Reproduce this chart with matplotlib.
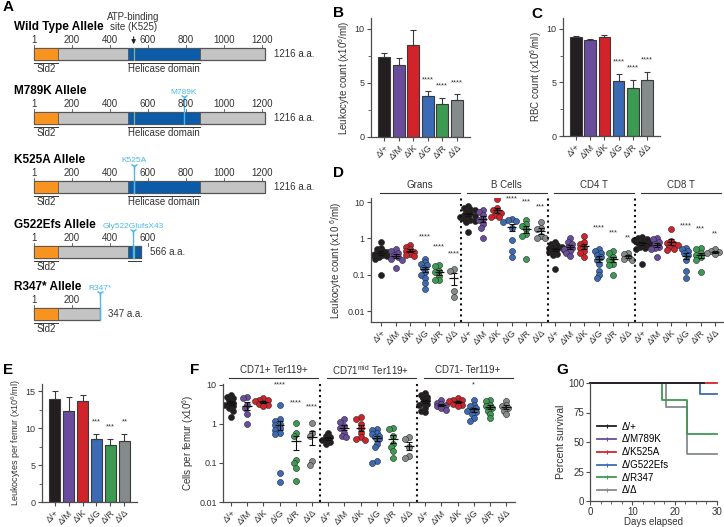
import numpy as np
import matplotlib
matplotlib.use("Agg")
import matplotlib.pyplot as plt
from matplotlib.patches import Rectangle
from matplotlib.lines import Line2D
from matplotlib.ticker import NullLocator, MultipleLocator
from matplotlib.transforms import blended_transform_factory

plt.rcParams['font.family'] = ['Liberation Sans', 'DejaVu Sans']
plt.rcParams['mathtext.default'] = 'regular'

W, H = 724, 527
fig = plt.figure(figsize=(W / 100, H / 100), dpi=100)


def px_axes(l, t, r, b):
    return fig.add_axes([l / W, 1 - b / H, (r - l) / W, (b - t) / H])


# ---- data ----
genotypes = ['Δ/+', 'Δ/M', 'Δ/K', 'Δ/G', 'Δ/R', 'Δ/Δ']
geno_long = ['Δ/+', 'Δ/M789K', 'Δ/K525A', 'Δ/G522Efs', 'Δ/R347', 'Δ/Δ']
geno_colors = ['#231f20', '#6a4c9c', '#d1232a', '#3b6bb5', '#3d9a52', '#858a8b']

# A: allele maps (amino-acid positions)
alleles = ['Wild Type Allele', 'M789K Allele', 'K525A Allele', 'G522Efs Allele', 'R347* Allele']
allele_len = [1216, 1216, 1216, 566, 347]
tick_max = [1200, 1200, 1200, 600, 200]
mut_label = [None, 'M789K', 'K525A', 'Gly522GlufsX43', 'R347*']
mut_pos = [None, 789, 525, 522, 347]
sld2 = (1, 125)
helicase = (495, 875)
atp_site = 525

# B, C, E: bar means and SEM
wbc_mean = [7.35, 6.7, 8.5, 3.76, 3.07, 3.38]
wbc_err = [0.4, 0.57, 1.4, 0.46, 0.56, 0.56]
wbc_stars = ['', '', '', '****', '****', '****']
rbc_mean = [9.2, 8.97, 9.2, 5.1, 4.43, 5.2]
rbc_err = [0.15, 0.1, 0.22, 0.67, 0.81, 0.77]
rbc_stars = ['', '', '', '****', '****', '****']
femur_mean = [14.0, 12.3, 13.7, 8.5, 7.7, 8.3]
femur_err = [1.0, 1.95, 0.8, 0.7, 0.9, 0.9]
femur_stars = ['', '', '', '***', '***', '**']

# D: peripheral leukocytes (x10^6/ml)
d_cells = ['Grans', 'B Cells', 'CD4 T', 'CD8 T']
grans = [[0.8, 0.55, 0.5, 0.45, 0.42, 0.4, 0.38, 0.36, 0.35, 0.33, 0.3, 0.28, 0.1],
         [0.5, 0.45, 0.4, 0.35, 0.3, 0.28, 0.25, 0.15],
         [0.65, 0.6, 0.5, 0.45, 0.42, 0.38, 0.35, 0.32],
         [0.28, 0.22, 0.2, 0.18, 0.15, 0.12, 0.1, 0.08, 0.06, 0.04],
         [0.18, 0.17, 0.13, 0.12, 0.09, 0.07, 0.07],
         [0.14, 0.13, 0.035, 0.025]]
bcells = [[8, 7, 6.5, 6, 5.5, 5, 4.5, 4.2, 4, 3.8, 3.5, 3.2, 3, 2.8, 1.5],
          [6, 5.5, 4.5, 3.5, 3.2, 2.5, 2, 1],
          [12, 7, 6, 5.5, 5, 4.5, 4, 3.8],
          [3.5, 3.2, 3, 2.8, 2, 0.9, 0.45, 0.3],
          [3.2, 2.5, 2.2, 1.8, 1.3, 1.2, 0.28],
          [2.8, 2, 1.8, 1.2, 1, 1]]
cd4 = [[0.8, 0.7, 0.65, 0.6, 0.58, 0.55, 0.5, 0.48, 0.45, 0.42, 0.38, 0.35, 0.14],
       [1.0, 0.8, 0.7, 0.6, 0.55, 0.5, 0.45, 0.4, 0.32],
       [1.2, 0.8, 0.7, 0.6, 0.55, 0.45, 0.4, 0.3],
       [0.5, 0.45, 0.4, 0.35, 0.3, 0.25, 0.2, 0.13, 0.1, 0.08],
       [0.45, 0.4, 0.3, 0.25, 0.2, 0.18, 0.1],
       [0.4, 0.38, 0.3, 0.27, 0.25]]
cd8 = [[1.1, 1.0, 0.95, 0.9, 0.85, 0.8, 0.75, 0.7, 0.65, 0.6, 0.55, 0.5, 0.2],
       [1.0, 0.95, 0.8, 0.7, 0.6, 0.55, 0.5, 0.3],
       [1.8, 0.85, 0.75, 0.7, 0.65, 0.6, 0.5, 0.48],
       [0.55, 0.5, 0.45, 0.4, 0.35, 0.25, 0.13, 0.08],
       [0.55, 0.5, 0.4, 0.35, 0.3, 0.25, 0.12],
       [0.5, 0.45, 0.42, 0.4, 0.38]]
d_stars = [['', '', '', '****', '****', '****'],
           ['', '', '', '****', '***', '***'],
           ['', '', '', '****', '***', '**'],
           ['', '', '', '****', '***', '**']]

# F: erythroid cells per femur (x10^6)
f_cells = ['CD71+ Ter119+', 'CD71$^{mid}$ Ter119+', 'CD71- Ter119+']
cd71_pos = [[5.5, 5, 4.5, 4, 3.5, 3.2, 3, 2.8, 2.5, 2.2, 1.5],
            [4.8, 4.5, 3, 2.5, 1.8, 1.0],
            [4.5, 4.2, 4, 3.8, 3.5, 3.2, 3, 2.8],
            [3.0, 1.3, 1.2, 1.0, 0.95, 0.8, 0.7, 0.6, 0.55, 0.055, 0.033],
            [1.05, 0.6, 0.5, 0.12, 0.1, 0.075, 0.035],
            [1.05, 0.6, 0.5, 0.11, 0.09]]
cd71_mid = [[0.6, 0.5, 0.45, 0.4, 0.38, 0.35, 0.3],
            [1.3, 1.1, 0.9, 0.8, 0.6, 0.5, 0.45],
            [1.5, 1.3, 1.0, 0.8, 0.6, 0.45, 0.4, 0.38],
            [0.75, 0.7, 0.6, 0.55, 0.5, 0.45, 0.4, 0.3, 0.25, 0.11, 0.1],
            [0.8, 0.75, 0.5, 0.3, 0.25, 0.2, 0.13],
            [0.45, 0.4, 0.25, 0.15, 0.13]]
cd71_neg = [[6, 5.5, 5, 4.5, 4, 3.5, 3.2, 3, 2.5, 2.2, 2],
            [4, 3.5, 3.2, 3, 2.8, 2.5, 2.3],
            [4.5, 4.2, 4, 3.8, 3.5, 3.2, 3, 2.8],
            [4.2, 3, 2.8, 2.5, 2.3, 2.2, 2, 1.8, 1.4, 1.2],
            [4, 3.8, 3, 2.8, 2.5, 2.2, 1.8, 1.4],
            [3.8, 3, 2.8, 2.5, 2.2, 1.8]]
f_stars = [['', '', '', '****', '****', '****'],
           ['', '', '', '', '', ''],
           ['', '', '', '*', '', '']]

# G: survival curves
surv_days = [[0, 27], [0, 27], [0, 30], [0, 26, 30], [0, 17, 23, 30], [0, 18, 23, 30]]
surv_pct = [[100, 100], [100, 100], [100, 100], [100, 90.9, 90.9],
            [100, 85.7, 57.1, 57.1], [100, 80, 40, 40]]

AXC = '#4d4d4d'
TXT = '#333333'


def style(ax):
    for s in ['top', 'right']:
        ax.spines[s].set_visible(False)
    for s in ['left', 'bottom']:
        ax.spines[s].set_color(AXC)
        ax.spines[s].set_linewidth(0.9)
    ax.tick_params(labelsize=6.5, color=AXC, labelcolor=TXT, length=3, width=0.8, pad=1.5)
    ax.tick_params(which='minor', length=2, width=0.6, color=AXC)


def geno_xticks(ax, xs):
    ax.set_xticks(xs)
    ax.set_xticklabels(genotypes * (len(xs) // 6), rotation=45, ha='right',
                       rotation_mode='anchor')


def panel_letter(x, y, s):
    fig.text(x / W, 1 - y / H, s, fontsize=11, fontweight='bold', va='center', ha='left')


# ---- A ----
axA = px_axes(0, 0, 362, 345)
axA.axis('off')
aa_px = (262 - 34) / 1199
axA.set_xlim(1 - 34 / aa_px, 1 + 328 / aa_px)
axA.set_ylim(345, 0)
trA = blended_transform_factory(axA.transAxes, axA.transData)
bar_tops = [48, 112, 181, 246, 308]
bh = 12
orange, grey_bar, blue_dom, cyan = '#f7931e', '#c4c4c4', '#0b5ba8', '#4db8e8'
for i, name in enumerate(alleles):
    top = bar_tops[i]
    L = allele_len[i]
    axA.text(0.039, top - 21, name, transform=trA, fontsize=8.5, fontweight='bold', va='center')
    axA.add_patch(Rectangle((1, top), L - 1, bh, fc=grey_bar, ec='#555555', lw=0.9))
    axA.add_patch(Rectangle((sld2[0], top), sld2[1] - sld2[0], bh, fc=orange, ec='#555555', lw=0.6))
    if L > helicase[0]:
        axA.add_patch(Rectangle((helicase[0], top), min(helicase[1], L) - helicase[0], bh,
                                fc=blue_dom, ec='#555555', lw=0.6))
    if L >= atp_site:
        axA.plot([atp_site, atp_site], [top, top + bh], color='#8db36f', lw=0.9)
    for t in [1] + list(range(200, tick_max[i] + 1, 200)):
        axA.plot([t, t], [top - 3, top], color='#555555', lw=0.6)
        axA.text(t, top - 8, str(t), ha='center', va='center', fontsize=7, color=TXT)
    axA.text(L + 45, top + bh / 2, f'{L} a.a.', va='center', fontsize=7, color=TXT)
    axA.plot(sld2, [top + bh + 3] * 2, color='#333333', lw=0.7)
    axA.text(sum(sld2) / 2, top + bh + 9, 'Sld2', ha='center', va='center', fontsize=7, color=TXT)
    if L > helicase[0]:
        axA.plot([helicase[0], min(helicase[1], L)], [top + bh + 3] * 2, color='#333333', lw=0.7)
    if L >= helicase[1]:
        axA.text(sum(helicase) / 2, top + bh + 9, 'Helicase domain', ha='center', va='center',
                 fontsize=7, color=TXT)
    if mut_pos[i]:
        p = mut_pos[i]
        axA.plot([p, p], [top - 15, top + bh], color=cyan, lw=1.0)
        axA.plot(p, top - 15, marker='1', color=cyan, ms=5, mew=1.0)
        axA.text(p, top - 20, mut_label[i], ha='center', va='center', fontsize=6, color=cyan)
axA.text(atp_site, 22, 'ATP-binding\nsite (K525)', ha='center', va='center', fontsize=7,
         color=TXT, linespacing=1.1)
axA.annotate('', xy=(atp_site, bar_tops[0] - 1), xytext=(atp_site, 34),
             arrowprops=dict(arrowstyle='-|>', color='#222222', lw=0.8, mutation_scale=6))


# ---- bar panels ----
def bar_panel(ax, means, errs, stars, ymax, step, ylabel, lfs=7):
    x = np.arange(len(means))
    ax.bar(x, means, width=0.82, color=geno_colors, edgecolor='#3a3a3a', linewidth=0.8, zorder=2)
    ax.errorbar(x, means, yerr=[np.zeros(len(errs)), errs], fmt='none', ecolor='#3a3a3a',
                elinewidth=0.8, capsize=2, capthick=0.8, zorder=3)
    for xi, m, e, s in zip(x, means, errs, stars):
        if s:
            ax.text(xi, m + e + ymax * 0.07, s, ha='center', va='bottom', fontsize=5.5, color=TXT)
    ax.set_xlim(-0.9, 5.9)
    ax.set_ylim(0, ymax)
    ax.yaxis.set_major_locator(MultipleLocator(step))
    ax.yaxis.set_minor_locator(MultipleLocator(step / 2))
    ax.set_ylabel(ylabel, fontsize=lfs, color=TXT, labelpad=2)
    style(ax)
    geno_xticks(ax, x)


axB = px_axes(371, 18, 470, 137)
bar_panel(axB, wbc_mean, wbc_err, wbc_stars, 11, 5, 'Leukocyte count (x10$^6$/ml)')
axC = px_axes(563, 18, 660, 136)
bar_panel(axC, rbc_mean, rbc_err, rbc_stars, 11, 5, 'RBC count (x10$^6$/ml)')
axE = px_axes(42, 384, 137, 502)
bar_panel(axE, femur_mean, femur_err, femur_stars, 16, 5, 'Leukocytes per femur (x10$^6$/ml)',
          lfs=6.5)


# ---- scatter panels ----
def swarm(vals, x0, ppu, ppd, d=6.0):
    # compact deterministic beeswarm, points may overlap a bit
    ys = np.log10(vals) * ppd
    offs = np.zeros(len(vals))
    placed = []
    cands = [0.0] + [s * k * d * 0.35 for k in range(1, 20) for s in (-1, 1)]
    for i in np.argsort(-ys):
        for c in cands:
            if all((c - px) ** 2 + (ys[i] - py) ** 2 >= (d * 0.6) ** 2 for px, py in placed):
                offs[i] = c
                placed.append((c, ys[i]))
                break
    return x0 + offs / ppu


def scatter_panel(ax, cells, data, stars, ppu, ppd, ylim, head_y, line_y):
    ax.set_yscale('log')
    tr = blended_transform_factory(ax.transData, ax.transAxes)
    lift = [3.2, 2.6, 2.1]
    for s, (name, groups, st) in enumerate(zip(cells, data, stars)):
        for g in range(6):
            vals = np.array(groups[g], dtype=float)
            x0 = s * 6 + g
            xs = swarm(vals, x0, ppu, ppd)
            ax.scatter(xs, vals, s=19, c=geno_colors[g], edgecolors='#2a2a2a', linewidths=0.4, zorder=2)
            m = vals.mean()
            se = vals.std(ddof=1) / np.sqrt(len(vals))
            ax.hlines(m, x0 - 0.3, x0 + 0.3, color='#111111', lw=0.9, zorder=3)
            ax.errorbar(x0, m, yerr=se, fmt='none', ecolor='#111111', elinewidth=0.8,
                        capsize=2, capthick=0.8, zorder=3)
            if st[g]:
                ax.text(x0, min(vals.max() * lift[g - 3], ylim[1] * 0.75), st[g], ha='center',
                        va='bottom', fontsize=5.5, color=TXT)
        if s > 0:
            ax.axvline(s * 6 - 0.5, color='#111111', ls=':', lw=1.5)
        ax.text(s * 6 + 2.65, head_y, name, transform=tr, ha='center', va='center',
                fontsize=7, color=TXT)
        ax.plot([s * 6 - 0.1, s * 6 + 5.4], [line_y, line_y], transform=tr, clip_on=False,
                color='#333333', lw=0.8)
    ax.set_ylim(*ylim)
    ax.set_yticks([0.01, 0.1, 1, 10])
    ax.set_yticklabels(['0.01', '0.1', '1', '10'])
    ax.yaxis.set_minor_locator(NullLocator())
    style(ax)
    geno_xticks(ax, np.arange(6 * len(cells)))


axD = px_axes(371, 198, 723, 322)
axD.set_xlim(-0.7, 23.55)
scatter_panel(axD, d_cells, [grans, bcells, cd4, cd8], d_stars, 14.5, 36.3,
              (0.005, 13), 1.105, 1.04)
axD.set_ylabel('Leukocyte count (x10 $^6$/ml)', fontsize=7, color=TXT, labelpad=2)

axF = px_axes(223, 384, 515, 502)
axF.set_xlim(-0.5, 17.55)
scatter_panel(axF, f_cells, [cd71_pos, cd71_mid, cd71_neg], f_stars, 16.2, 39.3,
              (0.01, 10.5), 1.12, 1.05)
axF.set_ylabel('Cells per femur (x10$^6$)', fontsize=7, color=TXT, labelpad=2)

# ---- G ----
axG = px_axes(590, 383, 717, 501)
order = [5, 4, 3, 2, 1, 0]
for i in order:
    axG.step(surv_days[i], surv_pct[i], where='post', color=geno_colors[i], lw=1.3, clip_on=False)
handles = [Line2D([0], [0], color=geno_colors[i], lw=1.3, marker='|', ms=3, mew=0.8)
           for i in range(6)]
axG.legend(handles, geno_long, loc='lower left', bbox_to_anchor=(0.0, -0.01), frameon=False,
           fontsize=7, handlelength=2.0, handletextpad=0.6, labelspacing=0.28, borderpad=0.2)
axG.set_xlim(0, 30)
axG.set_ylim(0, 100)
axG.set_xticks([0, 10, 20, 30])
axG.set_yticks([0, 25, 50, 75, 100])
axG.xaxis.set_minor_locator(MultipleLocator(2.5))
axG.set_ylabel('Percent survival', fontsize=7.5, color=TXT, labelpad=2)
style(axG)
axG.tick_params(labelsize=7, pad=1)
axG.set_xlabel('Days elapsed', fontsize=7, color=TXT, labelpad=0.5)

for x, y, s in [(3, 7, 'A'), (333, 13, 'B'), (531, 14, 'C'), (333, 173, 'D'),
                (3, 370, 'E'), (190, 370, 'F'), (556, 370, 'G')]:
    panel_letter(x, y, s)

fig.savefig('out.png', dpi=100)
